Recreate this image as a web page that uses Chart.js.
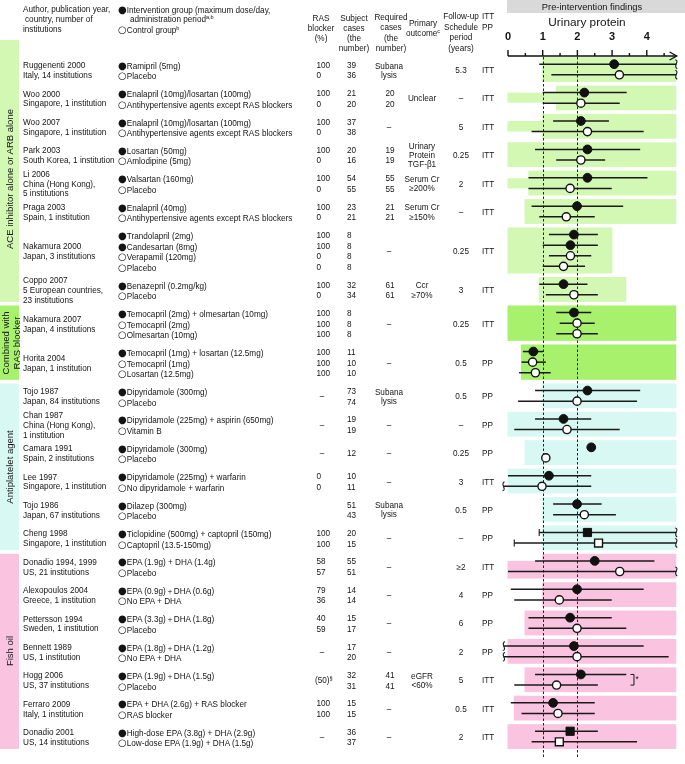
<!DOCTYPE html>
<html>
<head>
<meta charset="utf-8">
<title>Urinary protein forest plot</title>
<script src="https://cdn.jsdelivr.net/npm/chart.js@4.4.1/dist/chart.umd.min.js"></script>
<style>
html,body{margin:0;padding:0;background:#ffffff;}
#wrap{position:relative;width:685px;height:764px;overflow:hidden;font-family:"Liberation Sans",Arial,Helvetica,sans-serif;color:#141414;}
#plot{position:absolute;left:0;top:0;}
.t{position:absolute;white-space:nowrap;font-size:8.2px;line-height:10px;height:10px;}
.bul{font-family:"DejaVu Sans",sans-serif;font-size:10px;line-height:10px;vertical-align:-0.5px;}
.t sup{font-size:5.5px;line-height:0;vertical-align:0;position:relative;top:-3px;}
.rot{position:absolute;white-space:nowrap;font-size:9.5px;line-height:10.5px;text-align:center;transform:translate(-50%,-50%) rotate(-90deg);}
</style>
</head>
<body>
<div id="wrap"><canvas id="plot" width="685" height="764"></canvas></div>
<script>
// ---------------- DATA ----------------
const studyAuthors = ['Ruggenenti 2000','Woo 2000','Woo 2007','Park 2003','Li 2006','Praga 2003','Nakamura 2000','Coppo 2007',
  'Nakamura 2007','Horita 2004',
  'Tojo 1987','Chan 1987','Camara 1991','Lee 1997','Tojo 1986','Cheng 1998',
  'Donadio 1994, 1999','Alexopoulos 2004','Pettersson 1994','Bennett 1989','Hogg 2006','Ferraro 2009','Donadio 2001'];
const studyPlaces = [['Italy, 14 institutions'],['Singapore, 1 institution'],['Singapore, 1 institution'],['South Korea, 1 institution'],
  ['China (Hong Kong),','5 institutions'],['Spain, 1 institution'],['Japan, 3 institutions'],['5 European countries,','23 institutions'],
  ['Japan, 4 institutions'],['Japan, 1 institution'],
  ['Japan, 84 institutions'],['China (Hong Kong),','1 institution'],['Spain, 2 institutions'],['Singapore, 1 institution'],['Japan, 67 institutions'],['Singapore, 1 institution'],
  ['US, 21 institutions'],['Greece, 1 institution'],['Sweden, 1 institution'],['US, 1 institution'],['US, 37 institutions'],['Italy, 1 institution'],['US, 14 institutions']];
const groupLabels = [
  ['Ramipril (5mg)','Placebo'],
  ['Enalapril (10mg)/losartan (100mg)','Antihypertensive agents except RAS blockers'],
  ['Enalapril (10mg)/losartan (100mg)','Antihypertensive agents except RAS blockers'],
  ['Losartan (50mg)','Amlodipine (5mg)'],
  ['Valsartan (160mg)','Placebo'],
  ['Enalapril (40mg)','Antihypertensive agents except RAS blockers'],
  ['Trandolapril (2mg)','Candesartan (8mg)','Verapamil (120mg)','Placebo'],
  ['Benazepril (0.2mg/kg)','Placebo'],
  ['Temocapril (2mg) + olmesartan (10mg)','Temocapril (2mg)','Olmesartan (10mg)'],
  ['Temocapril (1mg) + losartan (12.5mg)','Temocapril (1mg)','Losartan (12.5mg)'],
  ['Dipyridamole (300mg)','Placebo'],
  ['Dipyridamole (225mg) + aspirin (650mg)','Vitamin B'],
  ['Dipyridamole (300mg)','Placebo'],
  ['Dipyridamole (225mg) + warfarin','No dipyridamole + warfarin'],
  ['Dilazep (300mg)','Placebo'],
  ['Ticlopidine (500mg) + captopril (150mg)','Captopril (13.5-150mg)'],
  ['EPA (1.9g) + DHA (1.4g)','Placebo'],
  ['EPA (0.9g)＋DHA  (0.6g)','No EPA + DHA'],
  ['EPA (3.3g)＋DHA (1.8g)','Placebo'],
  ['EPA (1.8g)＋DHA (1.2g)','No EPA + DHA'],
  ['EPA (1.9g)＋DHA (1.5g)','Placebo'],
  ['EPA + DHA (2.6g) + RAS blocker','RAS blocker'],
  ['High-dose EPA (3.8g) + DHA (2.9g)','Low-dose EPA (1.9g) + DHA (1.5g)']];
// I = intervention (filled), C = control (open)
const groupKind = [['I','C'],['I','C'],['I','C'],['I','C'],['I','C'],['I','C'],['I','I','C','C'],['I','C'],['I','C','C'],['I','C','C'],
  ['I','C'],['I','C'],['I','C'],['I','C'],['I','C'],['I','C'],['I','C'],['I','C'],['I','C'],['I','C'],['I','C'],['I','C'],['I','C']];
const markerShape = ['c','c','c','c','c','c','c','c','c','c','c','c','c','c','c','s','c','c','c','c','c','c','s'];
const rasBlockerPct = [['100','0'],['100','0'],['100','0'],['100','0'],['100','0'],['100','0'],['100','100','0','0'],['100','0'],
  ['100','100','100'],['100','100','100'],'–','–','–',['0','0'],'',['100','100'],['58','57'],['79','36'],['40','59'],'–','(50)§',['100','100'],'–'];
const subjectCases = [['39','36'],['21','20'],['37','38'],['20','16'],['54','55'],['23','21'],['8','8','8','8'],['32','34'],['8','8','8'],['11','10','10'],
  ['73','74'],['19','19'],'12',['10','11'],['51','43'],['20','15'],['55','51'],['14','14'],['15','17'],['17','20'],['32','31'],['15','15'],['36','37']];
const requiredCases = ['Subana\nlysis',['20','20'],'–',['19','19'],['55','55'],['21','21'],'–',['61','61'],'–','–',
  'Subana\nlysis','–','–','–','Subana\nlysis','–','–','–','–','–',['41','41'],'–','–'];
const primaryOutcome = ['','Unclear','','Urinary\nProtein\nTGF-β1','Serum Cr\n≥200%','Serum Cr\n≥150%','','Ccr\n≥70%','','',
  '','','','','','','','','','','eGFR\n<60%','',''];
const followUpYears = ['5.3','–','5','0.25','2','–','0.25','3','0.25','0.5','0.5','–','0.25','3','0.5','–','≥2','4','6','2','5','0.5','2'];
const analysisSet = ['ITT','ITT','ITT','ITT','ITT','ITT','ITT','ITT','ITT','PP','PP','PP','PP','ITT','PP','PP','ITT','PP','PP','PP','ITT','ITT','ITT'];

// urinary protein (pre-intervention) estimate and range per group
const estimates = [[3.06,3.21],[2.20,2.10],[2.10,2.29],[2.29,2.10],[2.29,1.79],[1.99,1.68],[1.90,1.80,1.80,1.60],[1.60,1.90],
  [1.90,1.99,1.99],[0.73,0.71,0.79],
  [2.29,1.99],[1.60,1.70],[2.40,1.09],[1.18,0.98],[1.99,2.20],[2.29,2.61],
  [2.50,3.22],[1.99,1.48],[1.79,1.99],[1.90,1.99],[2.10,1.40],[1.30,1.44],[1.79,1.48]];
const rangeLow = [[0.90,1.25],[1.00,1.00],[1.30,0.68],[0.78,1.39],[0.59,0.59],[0.68,0.90],[1.18,1.00,1.18,1.00],[0.90,1.09],
  [1.39,1.49,1.39],[0.43,0.39,0.32],
  [0.78,0.29],[0.78,0.18],[null,null],[0.00,-0.13],[1.30,1.30],[0.90,0.18],
  [0.78,0.00],[0.08,0.18],[0.59,0.59],[-0.12,-0.12],[0.78,0.18],[0.08,0.39],[0.78,0.68]];
const rangeHigh = [[4.85,4.85],[3.42,3.22],[2.91,3.91],[3.81,2.80],[4.02,2.99],[3.32,2.50],[2.59,2.59,2.40,2.22],[2.29,2.59],
  [2.40,2.50,2.59],[1.01,1.09,1.23],
  [3.81,3.72],[2.40,3.22],[null,null],[2.40,2.40],[2.70,3.11],[4.85,4.85],
  [4.22,4.85],[3.91,2.99],[2.99,3.41],[3.91,4.63],[3.41,2.59],[2.50,2.50],[2.59,3.72]];
// axis break marks: R = continues beyond right, L = beyond left, C = end cap on left
const rangeMarks = [['R','R'],['',''],['',''],['',''],['',''],['',''],['','','',''],['',''],['','',''],['','',''],
  ['',''],['',''],['',''],['','L'],['',''],['CR','CR'],['','R'],['',''],['',''],['L','L'],['',''],['',''],['','']];
// pre-intervention inclusion range shading
const bandFrom = [1.0,1.4,1.0,0,0.6,0.49,0,0.9,0,0.39,1.0,0,0.49,0,1.0,1.0,1.0,1.0,0.49,0,0.49,0.18,0];
const bandTo = [4.85,4.85,4.85,4.85,4.85,4.85,3.01,3.41,4.85,4.85,4.85,4.85,4.85,4.85,4.85,4.85,4.85,4.85,4.85,4.85,4.85,4.85,4.85];
const bandExtra = [null,[0,1.4,0,0.95],[0,1.0,0,1.0],null,[0,0.6,0.05,1.0],null,null,null,null,null,
  null,null,null,null,null,null,[0,1.0,0,1.67],null,null,null,null,null,null];

const categoryLabels = ['ACE inhibitor alone or ARB alone','Combined with\nRAS blocker','Antiplatelet agent','Fish oil'];
const categorySizes = [8,2,6,7];
const categoryColors = ['#d3f8b3','#a7f16c','#d8f8f3','#fac4e1'];
const axisTicks = [0,1,2,3,4];
const referenceLines = [1,2];

// ---------------- LAYOUT HELPERS ----------------
const GAP = 0.68, PAD = 0.67;
const rowStart = [];
(function(){ let acc = 0; estimates.forEach(g => { rowStart.push(acc); acc += g.length + GAP; }); })();
const studyCategory = [];
categorySizes.forEach((n,c) => { for (let i=0;i<n;i++) studyCategory.push(c); });

const pts = {fc:[],oc:[],fs:[],os:[]};
estimates.forEach((g,s) => g.forEach((v,i) => {
  const key = (groupKind[s][i]==='I'?'f':'o') + markerShape[s];
  pts[key].push({x:v, y:rowStart[s]+i});
}));

const decor = {
  id:'decor',
  beforeDraw(chart){
    const {ctx, scales:{x, y}} = chart;
    ctx.save();
    ctx.fillStyle = '#d9d9d9';
    ctx.fillRect(x.getPixelForValue(0)-1, 0, 685, 13);
    let s0 = 0;
    categorySizes.forEach((n,c) => {
      const s1 = s0 + n - 1;
      let top = y.getPixelForValue(rowStart[s0]-PAD);
      if (c === 0) top = 40;
      const bot = y.getPixelForValue(rowStart[s1]+estimates[s1].length-1+PAD);
      ctx.fillStyle = categoryColors[c];
      ctx.fillRect(0, top, 19, bot-top);
      s0 += n;
    });
    ctx.restore();
  },
  beforeDatasetsDraw(chart){
    const {ctx, scales:{x, y}, chartArea} = chart;
    ctx.save();
    estimates.forEach((g,s) => {
      ctx.fillStyle = categoryColors[studyCategory[s]];
      const top = y.getPixelForValue(rowStart[s]-PAD);
      const bot = y.getPixelForValue(rowStart[s]+g.length-1+PAD);
      const xl = x.getPixelForValue(bandFrom[s]) - 0.5, xr = x.getPixelForValue(bandTo[s]);
      ctx.fillRect(xl, top, xr-xl, bot-top);
      const e = bandExtra[s];
      if (e) {
        const a = x.getPixelForValue(e[0]) - 0.5, b = x.getPixelForValue(e[1]);
        const t = y.getPixelForValue(rowStart[s]+e[2]), u = y.getPixelForValue(rowStart[s]+e[3]);
        ctx.fillRect(a, t, b-a, u-t);
      }
    });
    ctx.strokeStyle = '#222'; ctx.lineWidth = 1; ctx.setLineDash([2.5,2]);
    referenceLines.forEach(v => {
      const px = Math.round(x.getPixelForValue(v)) + 0.5;
      ctx.beginPath(); ctx.moveTo(px, chartArea.top+1); ctx.lineTo(px, chartArea.bottom); ctx.stroke();
    });
    ctx.setLineDash([]);
    ctx.strokeStyle = '#1a1a1a'; ctx.lineWidth = 1.5;
    estimates.forEach((g,s) => g.forEach((v,i) => {
      const lo = rangeLow[s][i], hi = rangeHigh[s][i];
      if (lo == null || hi == null) return;
      const py = y.getPixelForValue(rowStart[s]+i);
      const xl = x.getPixelForValue(lo), xr = x.getPixelForValue(hi);
      ctx.beginPath(); ctx.moveTo(xl, py); ctx.lineTo(xr, py); ctx.stroke();
      const m = rangeMarks[s][i];
      ctx.save(); ctx.lineWidth = 1.1;
      if (m.includes('R')) {
        ctx.beginPath(); ctx.moveTo(xr-1, py-4.5);
        ctx.bezierCurveTo(xr+4, py-3, xr-4, py+2, xr+1, py+4.5); ctx.stroke();
      }
      if (m.includes('L')) {
        ctx.beginPath(); ctx.moveTo(xl+1, py-4.5);
        ctx.bezierCurveTo(xl-4, py-2, xl+4, py+3, xl-1, py+4.5); ctx.stroke();
      }
      if (m.includes('C')) {
        ctx.beginPath(); ctx.moveTo(xl, py-3.5); ctx.lineTo(xl, py+3.5); ctx.stroke();
      }
      ctx.restore();
    }));
    const hs = 20, bx = x.getPixelForValue(3.53);
    const ya = y.getPixelForValue(rowStart[hs]), yb = y.getPixelForValue(rowStart[hs]+1);
    ctx.lineWidth = 1;
    ctx.beginPath(); ctx.moveTo(bx, ya); ctx.lineTo(bx+3.5, ya); ctx.lineTo(bx+3.5, yb); ctx.lineTo(bx, yb); ctx.stroke();
    ctx.restore();
  },
  afterDraw(chart){
    const {ctx, scales:{x}, chartArea} = chart;
    ctx.save();
    const y0 = chartArea.top;
    ctx.strokeStyle = '#111'; ctx.lineWidth = 1.4;
    const x0 = x.getPixelForValue(0), xt = x.getPixelForValue(4.86);
    ctx.beginPath(); ctx.moveTo(x0, y0); ctx.lineTo(xt, y0); ctx.stroke();
    ctx.beginPath(); ctx.moveTo(xt-7, y0-4); ctx.lineTo(xt, y0); ctx.lineTo(xt-7, y0+4); ctx.stroke();
    axisTicks.forEach(v => {
      const p = x.getPixelForValue(v);
      ctx.beginPath(); ctx.moveTo(p, y0); ctx.lineTo(p, y0-6); ctx.stroke();
      const q = x.getPixelForValue(v+0.5);
      ctx.beginPath(); ctx.moveTo(q, y0); ctx.lineTo(q, y0-3); ctx.stroke();
    });
    ctx.restore();
  }
};

const chart = new Chart(document.getElementById('plot').getContext('2d'), {
  type:'scatter',
  data:{datasets:[
    {data:pts.fc, pointStyle:'circle', pointRadius:4.4, pointBackgroundColor:'#111', pointBorderColor:'#111', pointBorderWidth:1},
    {data:pts.oc, pointStyle:'circle', pointRadius:4.1, pointBackgroundColor:'#fff', pointBorderColor:'#111', pointBorderWidth:1.4},
    {data:pts.fs, pointStyle:'rect', pointRadius:5.8, pointBackgroundColor:'#111', pointBorderColor:'#111', pointBorderWidth:1},
    {data:pts.os, pointStyle:'rect', pointRadius:5.6, pointBackgroundColor:'#fff', pointBorderColor:'#111', pointBorderWidth:1.4}
  ]},
  options:{
    responsive:false, animation:false, devicePixelRatio:1, events:[],
    layout:{padding:{left:508, right:3, top:56, bottom:0}},
    plugins:{legend:{display:false}, tooltip:{enabled:false}},
    scales:{
      x:{type:'linear', min:0, max:4.9, display:false},
      y:{type:'linear', min:-0.776, max:65.39, reverse:true, display:false}
    }
  },
  plugins:[decor]
});

// ---------------- TEXT ----------------
const wrap = document.getElementById('wrap');
function txt(html, x, y, align, extra){
  const d = document.createElement('div');
  d.className = 't';
  d.innerHTML = html;
  d.style.left = x + 'px';
  d.style.top = (y - 5) + 'px';
  if (align === 'center') d.style.transform = 'translateX(-50%)';
  else if (align === 'right') d.style.transform = 'translateX(-100%)';
  if (extra) Object.assign(d.style, extra);
  wrap.appendChild(d);
  return d;
}
const ys = v => chart.scales.y.getPixelForValue(v) + 1.5;
const xs = v => chart.scales.x.getPixelForValue(v);
function lines(str, x, yc, align, step){
  const ls = str.split('\n');
  ls.forEach((l,i) => txt(l, x, yc + (i-(ls.length-1)/2)*step, align));
}
function supFix(s){ return s.replace('§','<sup>§</sup>'); }

txt('Author, publication year,', 23, 10);
txt(' country, number of', 25, 20);
txt('institutions', 23, 30);
txt('<span class="bul">●</span>Intervention group (maximum dose/day,', 118, 10);
txt('administration period<sup>a,b</sup>', 130, 20);
txt('<span class="bul">○</span>Control group<sup>b</sup>', 118, 30);
lines('RAS\nblocker\n(%)', 321, 29, 'center', 10);
lines('Subject\ncases\n(the\nnumber)', 354, 34, 'center', 10);
lines('Required\ncases\n(the\nnumber)', 391, 33.5, 'center', 10.3);
txt('Primary', 423, 24, 'center');
txt('outcome<sup>c</sup>', 423, 33.5, 'center');
lines('Follow-up\nSchedule\nperiod\n(years)', 461, 33, 'center', 10.5);
txt('ITT', 482, 17); txt('PP', 482, 28);
txt('Pre-intervention findings', 592, 6.5, 'center', {fontSize:'9.3px'});
txt('Urinary protein', 587, 22, 'center', {fontSize:'11.8px', height:'14px', lineHeight:'10px'});
axisTicks.forEach(v => txt(String(v), xs(v), 35.5, 'center', {fontSize:'11px', fontWeight:'bold'}));

estimates.forEach((g,s) => {
  const first = rowStart[s], n = g.length, mid = first + (n-1)/2;
  const yc = ys(mid);
  lines([studyAuthors[s]].concat(studyPlaces[s]).join('\n'), 23, yc, 'left', 9.8);
  groupLabels[s].forEach((lab,i) => {
    const b = groupKind[s][i]==='I' ? '●' : '○';
    txt('<span class="bul">'+b+'</span>'+lab, 118, ys(first+i));
  });
  const r = rasBlockerPct[s];
  if (Array.isArray(r)) r.forEach((v,i) => txt(v, 316.5, ys(first+i)));
  else if (r === '–') txt(r, 322, yc, 'center');
  else if (r) txt(supFix(r), 315, yc);
  const sc = subjectCases[s];
  if (Array.isArray(sc)) sc.forEach((v,i) => txt(v, 347, ys(first+i)));
  else txt(sc, 347, yc);
  const rc = requiredCases[s];
  if (Array.isArray(rc)) rc.forEach((v,i) => txt(v, 394.5, ys(first+i), 'right'));
  else lines(rc, 389, yc, 'center', 9);
  if (primaryOutcome[s]) lines(primaryOutcome[s], 422, yc, 'center', 9.3);
  txt(followUpYears[s], 461, yc, 'center');
  txt(analysisSet[s], 482, yc);
});
txt('*', xs(3.53)+5, ys(rowStart[20]+0.5)-1);

(function(){
  let s0 = 0;
  categorySizes.forEach((n,c) => {
    const s1 = s0 + n - 1;
    const top = chart.scales.y.getPixelForValue(rowStart[s0]-PAD);
    const bot = chart.scales.y.getPixelForValue(rowStart[s1]+estimates[s1].length-1+PAD);
    const d = document.createElement('div');
    d.className = 'rot';
    d.innerHTML = categoryLabels[c].replace('\n','<br>');
    d.style.left = (c===1 ? 10.5 : 9.5) + 'px';
    d.style.top = ((top+bot)/2) + 'px';
    wrap.appendChild(d);
    s0 += n;
  });
})();
</script>
</body>
</html>
